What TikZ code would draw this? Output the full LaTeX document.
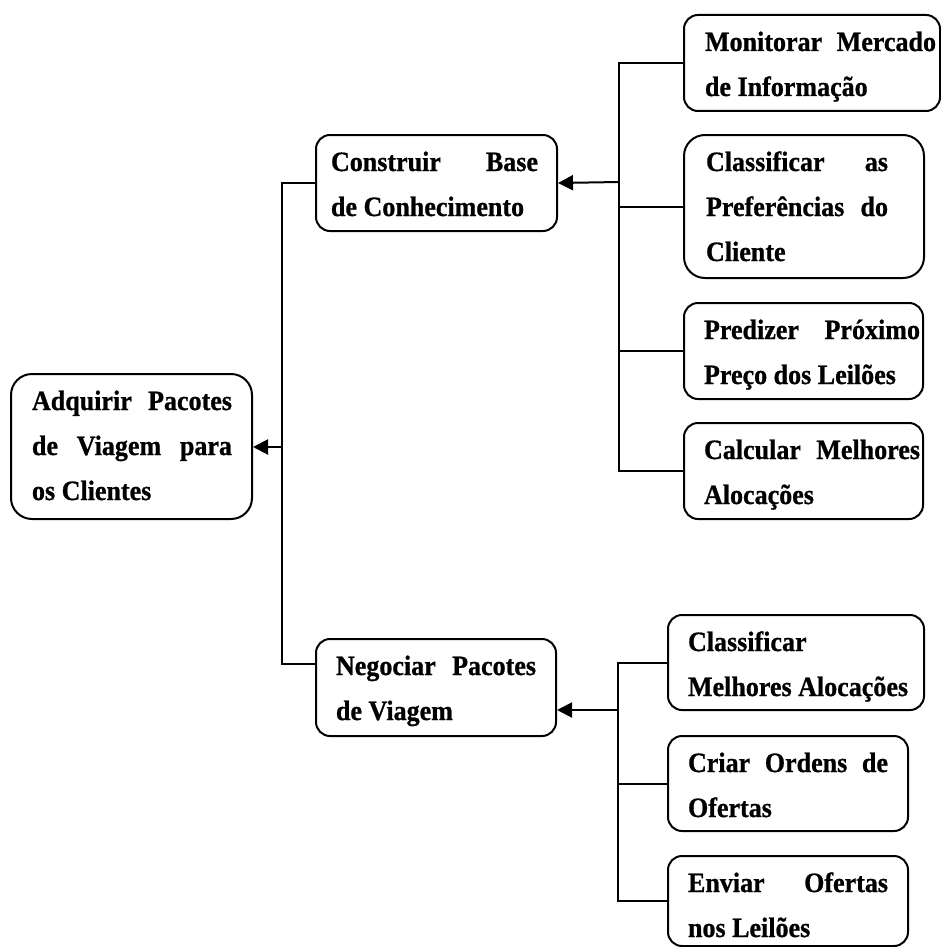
\documentclass[tikz,border=0pt]{standalone}
\usepackage{fontspec}
\setmainfont{Liberation Serif}[FakeStretch=0.93, BoldFeatures={FakeBold=0.8}]
\usetikzlibrary{arrows.meta}
% a justified line of given width, with plain stretchable word spaces
\newcommand\jline[2]{{\spaceskip=0pt\xspaceskip=0pt\makebox[#1][s]{#2}}}

\begin{document}
\begin{tikzpicture}[x=0.5pt,y=-0.5pt,
  box/.style={draw, line width=1pt, anchor=north west, inner ysep=0pt,
    text height=18pt, align=flush left,
    font=\bfseries\fontsize{14}{22.5}\selectfont,
    execute at begin node={\spaceskip=0pt\xspaceskip=0pt}},
  lowbox/.style={box, rounded corners=7pt, inner xsep=10pt, text width=99.5pt, text depth=30pt},
  tallbox/.style={box, rounded corners=10.5pt},
  link/.style={line width=1pt},
  feed/.style={line width=1pt, -{Triangle[length=7.5pt,width=7.5pt]}},
]
\useasboundingbox (0,0) rectangle (941,947);

% goal
\node[tallbox, inner xsep=10.5pt, text width=99.5pt, text depth=54.5pt] (root) at (10,373)
  {\jline{100pt}{Adquirir Pacotes}\\\jline{100pt}{de Viagem para}\\\mbox{os Clientes}};

% sub-goals
\node[lowbox, inner xsep=7.5pt, text width=105.5pt] (cons) at (315,134)
  {\jline{103.5pt}{Construir Base}\\\mbox{de Conhecimento}};
\node[lowbox, text width=100pt, text depth=30.5pt] (neg) at (315,638)
  {\jline{100pt}{Negociar Pacotes}\\\mbox{de Viagem}};

% tasks of the knowledge base
\node[lowbox, inner xsep=10.5pt, text width=107pt] (mon) at (683,14)
  {\jline{115.5pt}{Monitorar Mercado}\\\mbox{de Informação}};
\node[tallbox, inner xsep=11pt, text width=98pt, text depth=53.5pt] (pref) at (683,134)
  {\jline{91pt}{Classificar as}\\\jline{91pt}{Preferências do}\\\mbox{Cliente}};
\node[lowbox] (pred) at (683,302)
  {\jline{108pt}{Predizer Próximo}\\\mbox{Preço dos Leilões}};
\node[lowbox] (calc) at (683,422)
  {\jline{108pt}{Calcular Melhores}\\\mbox{Alocações}};

% tasks of the negotiation
\node[lowbox, text width=108pt, text depth=29.5pt] (clsm) at (667,614)
  {\mbox{Classificar}\\\mbox{Melhores Alocações}};
\node[lowbox, text width=100pt, text depth=29.5pt] (criar) at (667,735)
  {\jline{100pt}{Criar Ordens de}\\\mbox{Ofertas}};
\node[lowbox, text width=100pt, text depth=27pt] (env) at (667,855)
  {\jline{100pt}{Enviar Ofertas}\\\mbox{nos Leilões}};

% buses and arrows
\coordinate (b1) at (282,447);
\coordinate (negin) at ([yshift=12pt]neg.west);
\draw[link] (cons.west) -- (cons.west -| b1) -- (negin -| b1) -- (negin);
\draw[feed] (b1) -- (root.east |- b1);

\coordinate (b2) at (619,182);
\draw[link] (mon.west) -- (mon.west -| b2) -- (calc.west -| b2) -- (calc.west);
\draw[link] (pref.west) -- (pref.west -| b2);
\draw[link] (pred.west) -- (pred.west -| b2);
\draw[feed] (b2) -- (cons.east);

\coordinate (b3) at (618,710);
\draw[link] (clsm.west) -- (clsm.west -| b3) -- (env.west -| b3) -- (env.west);
\draw[link] (criar.west) -- (criar.west -| b3);
\draw[feed] (b3) -- (neg.east |- b3);
\end{tikzpicture}
\end{document}
